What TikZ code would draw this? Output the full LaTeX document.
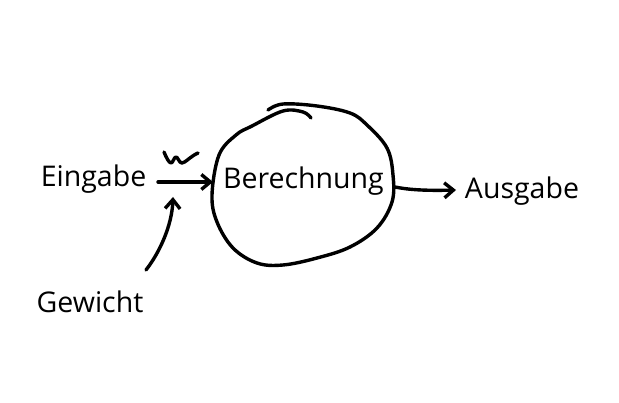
\documentclass[tikz,border=0pt]{standalone}
\usepackage{fontspec}
\setmainfont{Open Sans}
\usetikzlibrary{arrows.meta}
\begin{document}
\begin{tikzpicture}[x=1pt,y=-1pt,
  pen/.style={line width=3.4pt,line cap=round,line join=round,black},
  tip/.style={-{Straight Barb[length=9pt,width=15pt,line width=3.4pt]}},
  lbl/.style={inner sep=0pt,anchor=base,font=\fontsize{28.5}{34}\selectfont}]
\useasboundingbox[fill=white] (0,0) rectangle (619,403);
% labels
\node[lbl] (ein) at (93.5,187) {Eingabe};
\node[lbl] (gew) at (90,313) {Gewicht};
\node[lbl] (ber) at (303.5,189) {Berechnung};
\node[lbl] (aus) at (522,199) {Ausgabe};
% circle
\draw[pen] plot[smooth,tension=0.6] coordinates {
 (268,110) (283,104) (317,106) (350,113) (367,125) (387,148) (393,175)
 (392,202) (377,228) (350,247) (317,258) (283,265) (257,263) (233,248)
 (217,222) (212,195) (219,155) (236,135) (252,126) (283,111) (303,112) (311,118)};
% connector end points
\coordinate (a1) at (158,182);
\coordinate (a2) at (213,182);
\coordinate (g1) at (146,270);
\coordinate (g2) at (173,197);
\coordinate (b1) at (395,187);
\coordinate (b2) at (456,190);
\draw[pen,tip] (a1) -- (a2);
\draw[pen,tip] (g1) .. controls (160,252) and (172,225) .. (g2);
\draw[pen,tip] (b1) .. controls (405,189) and (420,191) .. (b2);
% w
\draw[pen] (164,152) .. controls (166,157) and (169,163) .. (171,163)
  .. controls (173,163) and (174,157) .. (176,157)
  .. controls (178,157) and (179,163) .. (182,163)
  .. controls (185,163) and (191,156) .. (198,153);
\end{tikzpicture}
\end{document}
